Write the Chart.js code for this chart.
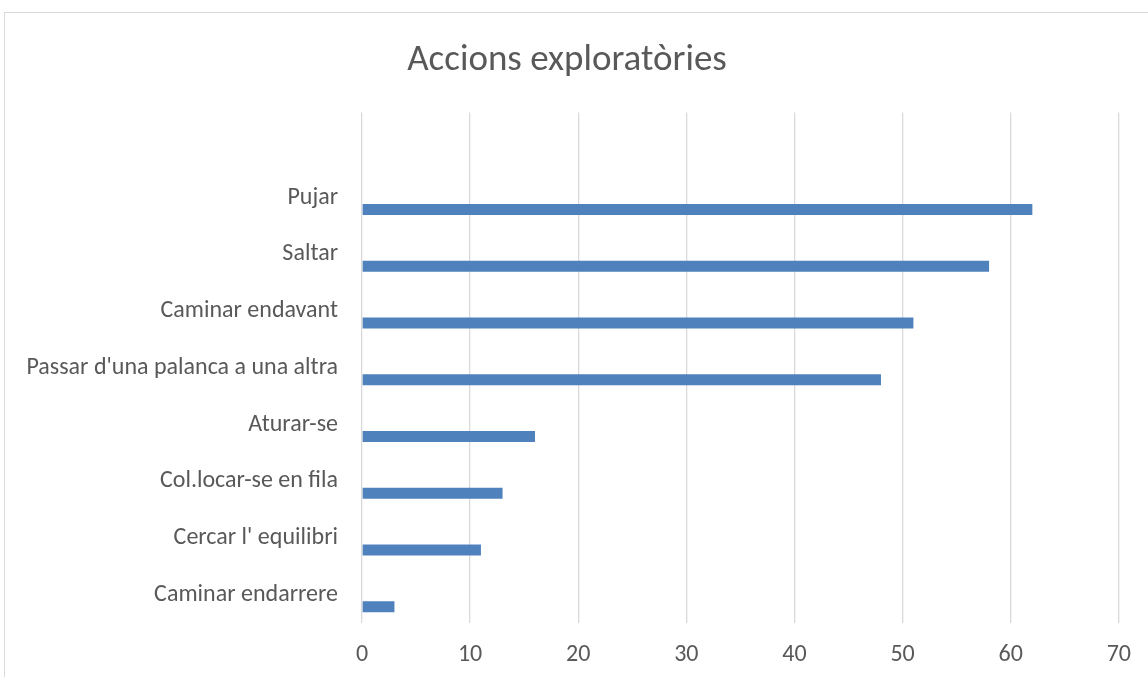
<!DOCTYPE html>
<html>
<head>
<meta charset="utf-8">
<script src="https://cdn.jsdelivr.net/npm/chart.js@4"></script>
<style>
  body { margin: 0; background: #fff; overflow: hidden; }
  .frame { position: absolute; left: 4px; top: 12px; width: 1160px; height: 700px; border: 1px solid #d9d9d9; overflow: hidden; }
  #c { position: absolute; left: 0; top: 0; }
</style>
</head>
<body>
<div class="frame">
  <canvas id="c" width="1143" height="673"></canvas>
</div>
<script>
// Excel leaves an empty slot on top, so the first label is blank
const categories = ['', 'Pujar', 'Saltar', 'Caminar endavant', "Passar d'una palanca a una altra",
  'Aturar-se', 'Col.locar-se en fila', "Cercar l' equilibri", 'Caminar endarrere'];
const values = [null, 62, 58, 51, 48, 16, 13, 11, 3];
const emptySeries = [null, null, null, null, null, null, null, null, null];
const xTicks = [0, 10, 20, 30, 40, 50, 60, 70];

const font = "Carlito, Calibri, Lato, sans-serif";
const grey = '#595959';

new Chart(document.getElementById('c'), {
  type: 'bar',
  data: {
    labels: categories,
    datasets: [
      { label: 'buit', data: emptySeries, backgroundColor: '#4f81bd' },
      { label: 'Accions', data: values, backgroundColor: '#4f81bd' }
    ]
  },
  options: {
    indexAxis: 'y',
    responsive: false,
    animation: false,
    categoryPercentage: 0.845,
    barPercentage: 0.46,
    layout: { padding: { left: 10, right: 29, top: 0, bottom: 0 } },
    scales: {
      x: {
        min: 0,
        max: 70,
        afterBuildTicks: (s) => { s.ticks = xTicks.map(v => ({ value: v })); },
        grid: { color: '#d9d9d9', lineWidth: 1.3, drawTicks: false },
        border: { display: false },
        ticks: { color: grey, font: { family: font, size: 24 }, padding: 17 }
      },
      y: {
        grid: { display: false, drawTicks: false },
        border: { display: false },
        afterFit: (s) => { s.width = 347; },
        ticks: { color: grey, font: { family: font, size: 24 }, padding: 24, autoSkip: false }
      }
    },
    plugins: {
      legend: { display: false },
      tooltip: { enabled: false },
      title: {
        display: true,
        text: 'Accions exploratòries',
        color: grey,
        font: { family: font, size: 37, weight: 'normal' },
        padding: { top: 26, bottom: 29 }
      }
    }
  }
});
</script>
</body>
</html>
